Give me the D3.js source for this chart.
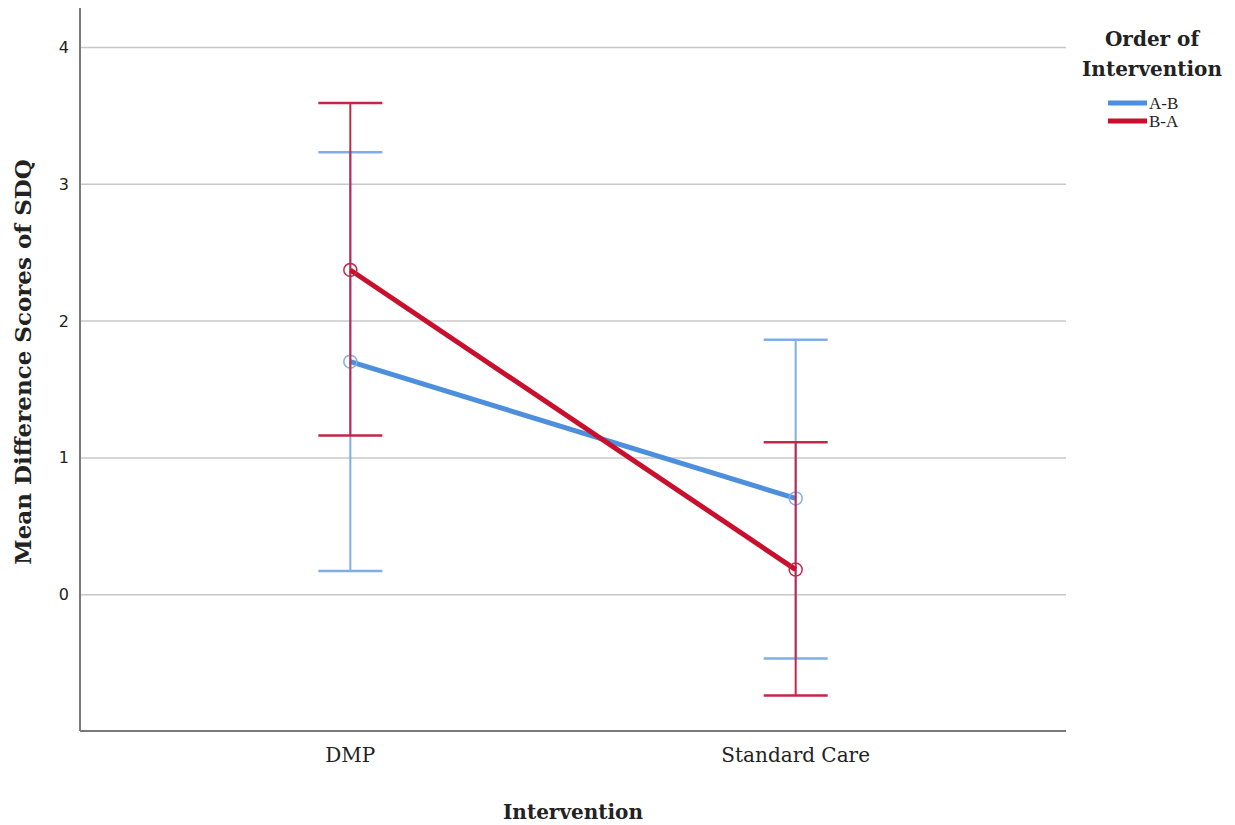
<!DOCTYPE html>
<html>
<head>
<meta charset="utf-8">
<script src="https://cdn.jsdelivr.net/npm/d3@7"></script>
<style>
  body { margin: 0; background: #fff; }
  .grid line { stroke: #c8c8c8; stroke-width: 1.5; }
  .grid path { display: none; }
  .serif { font-family: "DejaVu Serif", "Liberation Serif", serif; }
</style>
</head>
<body>
<svg></svg>
<script>
// chart data
const categories = ["DMP", "Standard Care"];
const seriesNames = ["A-B", "B-A"];
const means = {
    "A-B": [1.70, 0.70],
    "B-A": [2.37, 0.18]
};
const lower = {
    "A-B": [0.17, -0.47],
    "B-A": [1.16, -0.74]
};
const upper = {
    "A-B": [3.23, 1.86],
    "B-A": [3.59, 1.11]
};
const yTicks = [0, 1, 2, 3, 4];

const colors = { "A-B": "#4d8fdc", "B-A": "#c8102e" };
const barColors = { "A-B": "#7faee6", "B-A": "#c4264a" };

// size and margins
const W = 1235, H = 825;
const plotLeft = 80, plotRight = 1066, plotTop = 8, plotBottom = 731;

const svg = d3.select('svg')
    .attr('width', W)
    .attr('height', H);

// scales
const yScale = d3.scaleLinear()
    .domain([-1.0, 4.285])
    .range([plotBottom, plotTop]);

const xScale = d3.scalePoint()
    .domain(categories)
    .range([plotLeft, plotRight])
    .padding(0.607);

// gridlines
svg.append('g')
    .attr('class', 'grid')
    .attr('transform', `translate(${plotLeft},0)`)
    .call(d3.axisLeft(yScale)
        .tickValues(yTicks)
        .tickSize(-(plotRight - plotLeft))
        .tickFormat(''));

// y tick labels
svg.append('g')
    .selectAll('text')
    .data(yTicks)
    .enter()
    .append('text')
    .attr('x', plotLeft - 11)
    .attr('y', d => yScale(d) + 6)
    .attr('text-anchor', 'end')
    .attr('font-family', 'DejaVu Sans, sans-serif')
    .attr('font-size', 16)
    .attr('fill', '#222')
    .text(d => d);

// axis frame
svg.append('line')
    .attr('x1', plotLeft).attr('x2', plotLeft)
    .attr('y1', plotTop).attr('y2', plotBottom)
    .attr('stroke', '#7a7a7a').attr('stroke-width', 2);
svg.append('line')
    .attr('x1', plotLeft).attr('x2', plotRight)
    .attr('y1', plotBottom).attr('y2', plotBottom)
    .attr('stroke', '#7a7a7a').attr('stroke-width', 2);

// x tick labels
svg.append('g')
    .selectAll('text')
    .data(categories)
    .enter()
    .append('text')
    .attr('class', 'serif')
    .attr('x', d => xScale(d))
    .attr('y', 762)
    .attr('text-anchor', 'middle')
    .attr('font-size', 20)
    .attr('fill', '#222')
    .text(d => d);

// axis titles
svg.append('text')
    .attr('x', 573)
    .attr('y', 819)
    .attr('text-anchor', 'middle')
    .attr('font-size', 20)
    .attr('font-weight', 'bold')
    .attr('fill', '#222')
    .attr('class', 'serif')
    .text('Intervention');

svg.append('text')
    .attr('transform', 'translate(31, 362) rotate(-90)')
    .attr('text-anchor', 'middle')
    .attr('font-size', 23)
    .attr('font-weight', 'bold')
    .attr('fill', '#222')
    .attr('class', 'serif')
    .text('Mean Difference Scores of SDQ');

// error bars, mean lines and markers per series
const capHalf = 32;
seriesNames.forEach(name => {
    const g = svg.append('g');
    const pts = categories.map((c, i) => ({ c, m: means[name][i], lo: lower[name][i], hi: upper[name][i] }));

    pts.forEach(p => {
        const x = xScale(p.c);
        g.append('line')
            .attr('x1', x).attr('x2', x)
            .attr('y1', yScale(p.lo)).attr('y2', yScale(p.hi))
            .attr('stroke', barColors[name]).attr('stroke-width', 2);
        [p.lo, p.hi].forEach(v => {
            g.append('line')
                .attr('x1', x - capHalf).attr('x2', x + capHalf)
                .attr('y1', yScale(v)).attr('y2', yScale(v))
                .attr('stroke', barColors[name]).attr('stroke-width', 2.5);
        });
    });

    g.append('path')
        .datum(pts)
        .attr('fill', 'none')
        .attr('stroke', colors[name])
        .attr('stroke-width', 5)
        .attr('d', d3.line().x(p => xScale(p.c)).y(p => yScale(p.m)));

    g.selectAll('circle')
        .data(pts)
        .enter()
        .append('circle')
        .attr('cx', p => xScale(p.c))
        .attr('cy', p => yScale(p.m))
        .attr('r', 6.5)
        .attr('fill', 'none')
        .attr('stroke', barColors[name])
        .attr('stroke-width', 1.5);
});

// legend
const legend = svg.append('g');
legend.append('text')
    .attr('class', 'serif')
    .attr('x', 1152).attr('y', 46)
    .attr('text-anchor', 'middle')
    .attr('font-size', 20).attr('font-weight', 'bold').attr('fill', '#222')
    .text('Order of');
legend.append('text')
    .attr('class', 'serif')
    .attr('x', 1152).attr('y', 76)
    .attr('text-anchor', 'middle')
    .attr('font-size', 20).attr('font-weight', 'bold').attr('fill', '#222')
    .text('Intervention');

seriesNames.forEach((name, i) => {
    const y = 103 + i * 18;
    legend.append('line')
        .attr('x1', 1108).attr('x2', 1147)
        .attr('y1', y).attr('y2', y)
        .attr('stroke', colors[name]).attr('stroke-width', 5);
    legend.append('text')
        .attr('x', 1149).attr('y', y + 6)
        .attr('font-size', 17).attr('fill', '#222')
        .style('font-family', 'Liberation Serif, serif')
        .text(name);
});
</script>
</body>
</html>
